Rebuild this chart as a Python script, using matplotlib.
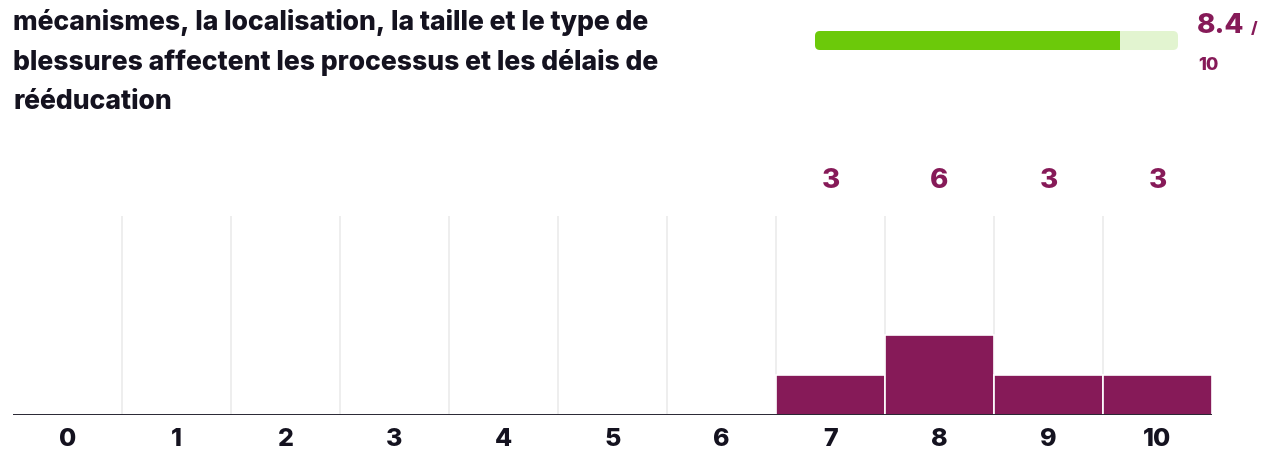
import matplotlib
matplotlib.use("Agg")
import matplotlib.pyplot as plt
from matplotlib.patches import FancyBboxPatch, Rectangle
import matplotlib.transforms as mtransforms

# ---- data ----
scores = list(range(11))
counts = [0, 0, 0, 0, 0, 0, 0, 3, 6, 3, 3]
score_labels = [str(s) for s in scores]
average = 8.4
max_score = 10
title_lines = [
    "mécanismes, la localisation, la taille et le type de",
    "blessures affectent les processus et les délais de",
    "rééducation",
]

PURPLE = "#861A58"
DARK = "#14121F"
GREEN = "#6CC90A"
LIGHTGREEN = "#E2F4D0"
GRID = "#EBEBEB"

W, H = 1271, 451
fig = plt.figure(figsize=(W / 100, H / 100), dpi=100)
plt.rcParams['font.family'] = ['Inter', 'DejaVu Sans']

def fx(px):
    return px / W

def fy(py):
    return 1 - py / H

# ---- title ----
baselines = [30, 70, 109]
for line, b in zip(title_lines, baselines):
    fig.text(fx(13), fy(b), line, fontsize=19.1, fontweight='heavy', color=DARK,
             ha='left', va='baseline')

# ---- histogram ----
left, right, top, bottom = 13, 1212, 216, 415
ax = fig.add_axes([fx(left), fy(bottom), fx(right - left), (bottom - top) / H])
total = sum(counts)
ax.set_xlim(-0.5, len(scores) - 0.5)
ax.set_ylim(0, total)
for i in range(1, len(scores)):
    ax.axvline(i - 0.5, color=GRID, lw=1.2, zorder=0)
ax.bar(scores, counts, width=1.0, color=PURPLE, edgecolor='white', linewidth=1.2, zorder=2)
ax.axhline(0, color=DARK, lw=2, zorder=3)
for s in ['top', 'right', 'left', 'bottom']:
    ax.spines[s].set_visible(False)
ax.set_xticks([])
ax.set_yticks([])
ax.patch.set_alpha(0)

trans = mtransforms.blended_transform_factory(ax.transData, fig.transFigure)
for s, c, lab in zip(scores, counts, score_labels):
    ax.text(s, fy(439), lab, transform=trans, fontsize=18, fontweight='heavy',
            color=DARK, ha='center', va='center', clip_on=False)
    if c > 0:
        ax.text(s, fy(181), str(c), transform=trans, fontsize=20, fontweight='heavy',
                color=PURPLE, ha='center', va='center', clip_on=False)

# ---- progress bar ----
bx0, bx1, by0, by1 = 815, 1178, 31, 50
pax = fig.add_axes([fx(bx0), fy(by1), fx(bx1 - bx0), (by1 - by0) / H])
pax.set_xlim(0, max_score)
pax.set_ylim(0, 1)
pax.axis('off')
px_per_x = (bx1 - bx0) / max_score
px_per_y = (by1 - by0)
r = 5 / px_per_x
asp = px_per_x / px_per_y
pax.add_patch(FancyBboxPatch((0, 0), max_score, 1, boxstyle=f"round,pad=0,rounding_size={r}",
                             mutation_aspect=asp, fc=LIGHTGREEN, ec='none', clip_on=False))
pax.add_patch(FancyBboxPatch((0, 0), average, 1, boxstyle=f"round,pad=0,rounding_size={r}",
                             mutation_aspect=asp, fc=GREEN, ec='none', clip_on=False))
pax.add_patch(Rectangle((average - 2 * r, 0), 2 * r, 1, fc=GREEN, ec='none', clip_on=False))

fig.text(fx(1197), fy(33), f"{average}", fontsize=20, fontweight='heavy', color=PURPLE,
         ha='left', va='baseline')
fig.text(fx(1251), fy(33), "/", fontsize=12, fontweight='heavy', color=PURPLE,
         ha='left', va='baseline')
fig.text(fx(1198), fy(70), f"{max_score}", fontsize=13, fontweight='heavy', color=PURPLE,
         ha='left', va='baseline')

fig.savefig("out.png", dpi=100)
